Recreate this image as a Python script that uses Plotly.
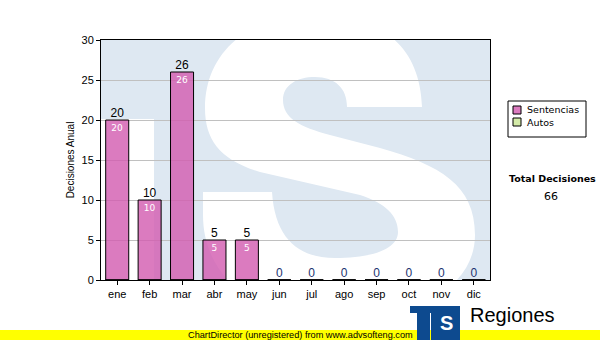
import plotly.graph_objects as go

months = ["ene", "feb", "mar", "abr", "may", "jun", "jul", "ago", "sep", "oct", "nov", "dic"]
sentencias = [20, 10, 26, 5, 5, 0, 0, 0, 0, 0, 0, 0]
autos = [0, 0, 0, 0, 0, 0, 0, 0, 0, 0, 0, 0]
series_names = ["Sentencias", "Autos"]
series_colors = ["rgba(210,90,175,0.8)", "#d4eba8"]
y_ticks = [0, 5, 10, 15, 20, 25, 30]
total = sum(sentencias) + sum(autos)

W, H = 600, 340
L, R, T, B = 101, 110, 40, 60
PW, PH = W - L - R, H - T - B

def dx(px):
    return (px - L) / PW * 12 - 0.5

def dy(py):
    return (T + PH - py) / PH * 30

def path(cmds):
    out = []
    for c in cmds:
        if isinstance(c, str):
            out.append(c)
        else:
            out.append(f"{dx(c[0]):.4f},{dy(c[1]):.4f}")
    return " ".join(out)

def paper_x(px):
    return (px - L) / PW

def paper_y(py):
    return (T + PH - py) / PH

WM = "#dee8f2"
blue_base = path(["M", (60, 30), "L", (500, 30), "L", (500, 290), "L", (154, 290), "L", (154, 119), "L", (60, 119), "Z"])
white_s = path([
    "M", (347, 107), "L", (422, 107),
    "C", (420, 45), (380, 15), (315, 15),
    "C", (245, 15), (205, 55), (205, 108),
    "C", (205, 140), (220, 160), (260, 172),
    "L", (360, 195),
    "C", (385, 203), (398, 215), (398, 232),
    "C", (398, 250), (370, 258), (335, 258),
    "C", (300, 258), (275, 240), (272, 192),
    "L", (203, 192), "L", (203, 215),
    "C", (203, 280), (260, 320), (335, 320),
    "C", (420, 320), (475, 285), (475, 235),
    "C", (475, 185), (440, 165), (380, 148),
    "L", (330, 135),
    "C", (300, 127), (283, 118), (283, 100),
    "C", (283, 85), (297, 77), (315, 77),
    "C", (335, 77), (347, 88), (347, 107), "Z",
])

fig = go.Figure()
fig.add_trace(go.Bar(
    x=list(range(12)), y=sentencias, name=series_names[0],
    marker=dict(color=series_colors[0], line=dict(color="black", width=1)),
    text=[str(v) if v else "" for v in sentencias], textposition="inside",
    insidetextanchor="end", textangle=0,
    textfont=dict(color="white", size=9, family="DejaVu Sans"),
    hoverinfo="skip", showlegend=False,
))
fig.add_trace(go.Bar(
    x=list(range(12)), y=autos, name=series_names[1],
    marker=dict(color=series_colors[1], line=dict(color="black", width=1)),
    hoverinfo="skip", showlegend=False,
))
fig.add_trace(go.Scatter(
    x=list(range(12)), y=sentencias, mode="text",
    text=[str(v) for v in sentencias], textposition="top center",
    textfont=dict(size=12, family="Liberation Sans",
                  color=["black" if v else "#1c3470" for v in sentencias]),
    showlegend=False, hoverinfo="skip", cliponaxis=False,
))

shapes = [
    dict(type="path", xref="x", yref="y", path=blue_base, fillcolor=WM, line=dict(width=0), layer="below"),
    dict(type="path", xref="x", yref="y", path=white_s, fillcolor="white", line=dict(width=0), layer="below"),
    # legend box
    dict(type="rect", xref="paper", yref="paper", x0=paper_x(508), x1=paper_x(586), y0=paper_y(137), y1=paper_y(101),
         fillcolor="white", line=dict(color="black", width=1)),
    # yellow band
    dict(type="rect", xref="paper", yref="paper", x0=paper_x(0), x1=paper_x(600), y0=paper_y(340), y1=paper_y(330),
         fillcolor="#ffff00", line=dict(width=0), layer="above"),
    # logo
    dict(type="rect", xref="paper", yref="paper", x0=paper_x(410), x1=paper_x(460), y0=paper_y(313), y1=paper_y(306),
         fillcolor="#0d4a8f", line=dict(width=0), layer="above"),
    dict(type="rect", xref="paper", yref="paper", x0=paper_x(417), x1=paper_x(430), y0=paper_y(340), y1=paper_y(313),
         fillcolor="#0d4a8f", line=dict(width=0), layer="above"),
    dict(type="rect", xref="paper", yref="paper", x0=paper_x(431), x1=paper_x(460), y0=paper_y(340), y1=paper_y(313),
         fillcolor="#0d4a8f", line=dict(width=0), layer="above"),
]

annotations = []
for i, (nm, col) in enumerate(zip(series_names, series_colors)):
    yc = 110 + i * 12
    shapes.append(dict(type="rect", xref="paper", yref="paper", x0=paper_x(513), x1=paper_x(521),
                       y0=paper_y(yc + 4), y1=paper_y(yc - 4), fillcolor=col, line=dict(color="black", width=1)))
    annotations.append(dict(text=nm, xref="paper", yref="paper", x=paper_x(525), y=paper_y(yc), showarrow=False,
                            font=dict(size=9.5, family="DejaVu Sans", color="black"),
                            xanchor="left", yanchor="middle"))

annotations += [
    dict(text="<b>Total Decisiones</b>", xref="paper", yref="paper", x=paper_x(552), y=paper_y(178),
         showarrow=False, font=dict(size=9.5, family="DejaVu Sans", color="black"), xanchor="center", yanchor="middle"),
    dict(text=str(total), xref="paper", yref="paper", x=paper_x(551), y=paper_y(196),
         showarrow=False, font=dict(size=11, family="DejaVu Sans", color="black"), xanchor="center", yanchor="middle"),
    dict(text="ChartDirector (unregistered) from www.advsofteng.com", xref="paper", yref="paper",
         x=paper_x(300), y=paper_y(335), showarrow=False,
         font=dict(size=9.2, family="Liberation Sans", color="black"), xanchor="center", yanchor="middle"),
    dict(text="<b>S</b>", xref="paper", yref="paper", x=paper_x(446), y=paper_y(323), showarrow=False,
         font=dict(size=20, family="Liberation Sans", color="white"), xanchor="center", yanchor="middle"),
    dict(text="Regiones", xref="paper", yref="paper", x=paper_x(468), y=paper_y(315), showarrow=False,
         font=dict(size=20, family="Liberation Sans", color="black"), xanchor="left", yanchor="middle"),
]

fig.update_layout(
    width=W, height=H, margin=dict(l=L, r=R, t=T, b=B, pad=0, autoexpand=False),
    paper_bgcolor="white", plot_bgcolor="white",
    barmode="overlay", bargap=0.29,
    showlegend=False,
    shapes=shapes, annotations=annotations,
    font=dict(family="Liberation Sans", size=11, color="black"),
)
fig.update_xaxes(range=[-0.5, 11.5], tickvals=list(range(12)), ticktext=months,
                 showline=True, mirror=True, linecolor="black", linewidth=1,
                 ticks="outside", ticklen=4, tickcolor="black", showgrid=False, zeroline=False,
                 tickfont=dict(size=11, family="Liberation Sans"))
fig.update_yaxes(range=[0, 30], tickvals=y_ticks, showline=True, mirror=True, linecolor="black", linewidth=1,
                 ticks="outside", ticklen=4, tickcolor="black", showgrid=True, gridcolor="#c0c0c0", gridwidth=1,
                 zeroline=False, tickfont=dict(size=11, family="Liberation Sans"),
                 title=dict(text="Decisiones Anual", font=dict(size=10, family="Liberation Sans"), standoff=5))

fig.write_html("out.html")
